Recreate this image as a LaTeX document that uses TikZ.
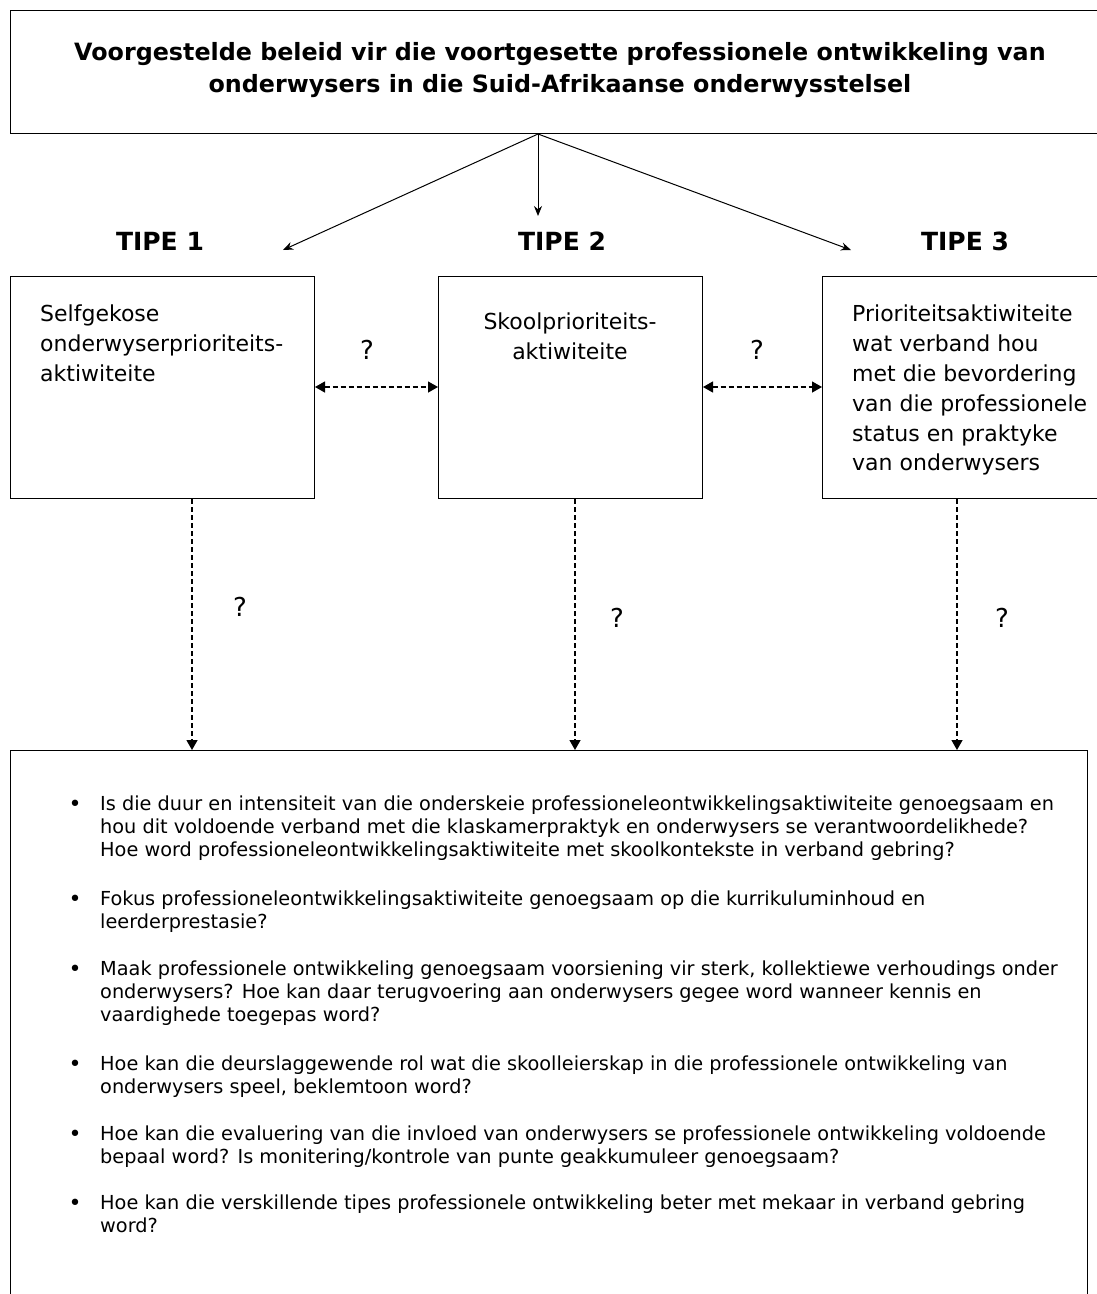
\documentclass[tikz,border=0pt]{standalone}
\usepackage{fontspec}
\setmainfont{DejaVu Sans}
\usetikzlibrary{arrows.meta,calc}
\begin{document}
\begin{tikzpicture}[x=1pt,y=-1pt,
  box/.style={draw,line width=1pt,inner sep=0pt,anchor=north west},
  solidarr/.style={line width=1pt,-{Stealth[length=10pt,width=8pt]}},
  dasharr/.style={line width=1.3pt,dash pattern=on 5pt off 3pt,-{Triangle[length=10pt,width=11pt]}},
  dblarr/.style={line width=1.3pt,dash pattern=on 5pt off 3pt,{Triangle[length=10pt,width=11pt]}-{Triangle[length=10pt,width=11pt]}},
  titletxt/.style={font=\bfseries\fontsize{23.8}{32}\selectfont,align=center,inner sep=0pt},
  tipetxt/.style={font=\bfseries\fontsize{25}{28}\selectfont,inner sep=0pt},
  boxtxt/.style={font=\fontsize{22}{29.8}\selectfont,inner sep=0pt},
  qtxt/.style={font=\fontsize{26}{28}\selectfont,inner sep=0pt},
  bodytxt/.style={font=\fontsize{19.3}{22.6}\selectfont,align=left,inner sep=0pt,anchor=north west},
  bul/.style={font=\fontsize{22}{22.6}\selectfont,inner sep=0pt}
]
\useasboundingbox (0,0) rectangle (1097,1294);
% boxes
\node[box,minimum width=1092pt,minimum height=123pt] (top) at (10,10) {};
\node[box,minimum width=304pt,minimum height=222pt] (b1) at (10,276) {};
\node[box,minimum width=264pt,minimum height=222pt] (b2) at (438,276) {};
\node[box,minimum width=280pt,minimum height=222pt] (b3) at (822,276) {};
\node[box,minimum width=1077pt,minimum height=560pt] (bot) at (10,750) {};
% title
\node[titletxt] (title) at (560,70) {Voorgestelde beleid vir die voortgesette professionele ontwikkeling van\\onderwysers in die Suid-Afrikaanse onderwysstelsel};
% tipe labels
\node[tipetxt] (t1) at (160,241) {TIPE 1};
\node[tipetxt] (t2) at (562,241) {TIPE 2};
\node[tipetxt] (t3) at (965,241) {TIPE 3};
% arrows from top
\coordinate (a1) at (283,250);
\coordinate (a2) at (538,216);
\coordinate (a3) at (851,250);
\coordinate (ts) at (top.south west -| a2);
\draw[solidarr] (ts) -- (a1);
\draw[solidarr] (ts) -- (a2);
\draw[solidarr] (ts) -- (a3);
% box texts
\node[boxtxt,align=left,anchor=north west] (x1) at (40,305) {Selfgekose\\onderwyserprioriteits-\\aktiwiteite};
\node[boxtxt,align=center,anchor=north] (x2) at (570,313) {Skoolprioriteits-\\aktiwiteite};
\node[boxtxt,align=left,anchor=north west] (x3) at (852,305) {Prioriteitsaktiwiteite\\wat verband hou\\met die bevordering\\van die professionele\\status en praktyke\\van onderwysers};
% horizontal dashed double arrows
\coordinate (h1) at ([yshift=-111pt]b1.north east);
\coordinate (h2) at ([yshift=-111pt]b2.north east);
\draw[dblarr] (h1) -- (h1 -| b2.west);
\draw[dblarr] (h2) -- (h2 -| b3.west);
\node[qtxt] (q1) at (367,350) {?};
\node[qtxt] (q2) at (757,350) {?};
% vertical dashed arrows
\coordinate (d1) at ([xshift=182pt]b1.south west);
\coordinate (d2) at ([xshift=137pt]b2.south west);
\coordinate (d3) at ([xshift=135pt]b3.south west);
\draw[dasharr] (d1) -- (d1 |- bot.north);
\draw[dasharr] (d2) -- (d2 |- bot.north);
\draw[dasharr] (d3) -- (d3 |- bot.north);
\node[qtxt] (q3) at (240,607) {?};
\node[qtxt] (q4) at (617,618) {?};
\node[qtxt] (q5) at (1002,618) {?};
% bullets
\foreach \yy/\nm in {806/u1,901/u2,971/u3,1066/u4,1136/u5,1205/u6}{
  \node[bul] (\nm) at (75,\yy) {•};
}
\node[bodytxt] (p1) at (100,796) {Is die duur en intensiteit van die onderskeie professioneleontwikkelingsaktiwiteite genoegsaam en\\hou dit voldoende verband met die klaskamerpraktyk en onderwysers se verantwoordelikhede?\\Hoe word professioneleontwikkelingsaktiwiteite met skoolkontekste in verband gebring?};
\node[bodytxt] (p2) at (100,891) {Fokus professioneleontwikkelingsaktiwiteite genoegsaam op die kurrikuluminhoud en\\leerderprestasie?};
\node[bodytxt] (p3) at (100,961) {Maak professionele ontwikkeling genoegsaam voorsiening vir sterk, kollektiewe verhoudings onder\\onderwysers? Hoe kan daar terugvoering aan onderwysers gegee word wanneer kennis en\\vaardighede toegepas word?};
\node[bodytxt] (p4) at (100,1056) {Hoe kan die deurslaggewende rol wat die skoolleierskap in die professionele ontwikkeling van\\onderwysers speel, beklemtoon word?};
\node[bodytxt] (p5) at (100,1126) {Hoe kan die evaluering van die invloed van onderwysers se professionele ontwikkeling voldoende\\bepaal word? Is monitering/kontrole van punte geakkumuleer genoegsaam?};
\node[bodytxt] (p6) at (100,1195) {Hoe kan die verskillende tipes professionele ontwikkeling beter met mekaar in verband gebring\\word?};
\end{tikzpicture}
\end{document}
